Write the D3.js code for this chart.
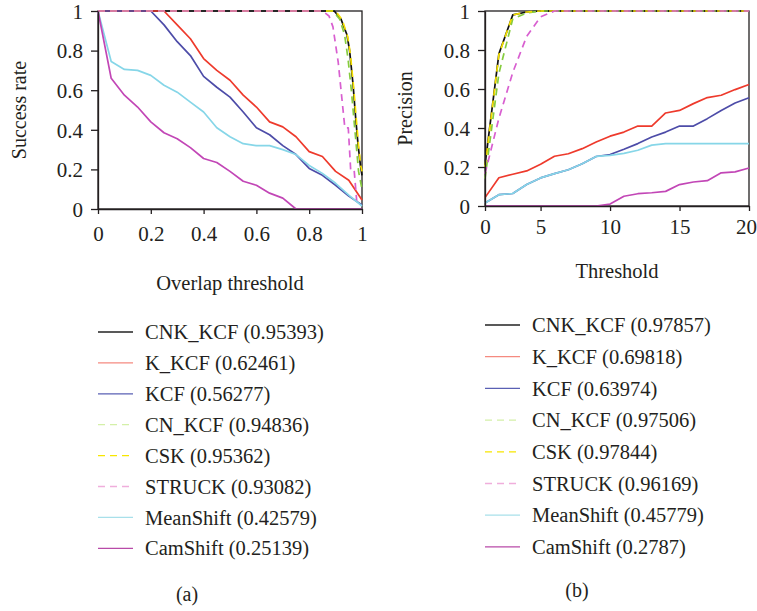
<!DOCTYPE html>
<html>
<head>
<meta charset="utf-8">
<script src="https://cdn.jsdelivr.net/npm/d3@7"></script>
<style>
  body { margin: 0; background: #fff; }
  svg text { font-family: "Liberation Serif", "DejaVu Serif", serif; fill: #231f20; }
  .axis path, .axis line { stroke: #231f20; stroke-width: 1.3; }
  .axis text { font-size: 21px; }
</style>
</head>
<body>
<svg id="chart" width="757" height="611"></svg>
<script>
// ---- data: success plot (a) ----
const overlapT = [0, 0.05, 0.1, 0.15, 0.2, 0.25, 0.3, 0.35, 0.4, 0.45, 0.5,
  0.55, 0.6, 0.65, 0.7, 0.75, 0.8, 0.85, 0.9, 0.95, 1];
const succK_KCF = [1, 1, 1, 1, 1, 1, 0.93, 0.86, 0.76, 0.70, 0.65, 0.575, 0.515, 0.44, 0.415, 0.365, 0.29, 0.265, 0.19, 0.145, 0.045];
const succKCF = [1, 1, 1, 1, 1, 0.93, 0.845, 0.775, 0.67, 0.615, 0.565, 0.49, 0.41, 0.375, 0.32, 0.275, 0.205, 0.17, 0.12, 0.065, 0.02];
const succMeanShift = [1, 0.745, 0.705, 0.70, 0.675, 0.625, 0.59, 0.54, 0.49, 0.41, 0.365, 0.33, 0.32, 0.32, 0.30, 0.275, 0.22, 0.18, 0.13, 0.07, 0.015];
const succCamShift = [1, 0.66, 0.575, 0.515, 0.44, 0.385, 0.355, 0.31, 0.255, 0.235, 0.19, 0.14, 0.12, 0.08, 0.055, 0, 0, 0, 0, 0, 0];
// the steep curves are read as [threshold, rate] points
const succCNK_KCF = [[0, 1], [0.895, 1], [0.92, 0.96], [0.943, 0.88], [0.953, 0.8], [0.966, 0.63], [0.976, 0.46], [0.985, 0.325], [0.994, 0.22], [1, 0.17]];
const succCSK = [[0, 1], [0.9, 1], [0.925, 0.955], [0.946, 0.87], [0.956, 0.78], [0.968, 0.62], [0.978, 0.46], [0.987, 0.32], [0.995, 0.22], [1, 0.19]];
const succCN_KCF = [[0, 1], [0.89, 1], [0.915, 0.96], [0.934, 0.88], [0.947, 0.76], [0.96, 0.595], [0.97, 0.445], [0.979, 0.31], [0.987, 0.19], [1, 0.1]];
const succSTRUCK = [[0, 1], [0.85, 1], [0.875, 0.975], [0.89, 0.92], [0.91, 0.74], [0.935, 0.41], [0.948, 0.41], [0.957, 0.2], [0.97, 0.2], [0.98, 0.04], [1, 0.04]];
const aucA = ["0.95393", "0.62461", "0.56277", "0.94836", "0.95362", "0.93082", "0.42579", "0.25139"];

// ---- data: precision plot (b) ----
const locThr = [1, 2, 3, 4, 5, 6, 7, 8, 9, 10, 11, 12, 13, 14, 15, 16, 17, 18, 19, 20];
const precCNK_KCF = [0.21, 0.78, 0.98, 0.995, 1, 1, 1, 1, 1, 1, 1, 1, 1, 1, 1, 1, 1, 1, 1, 1];
const precK_KCF = [0.043, 0.145, 0.163, 0.18, 0.214, 0.255, 0.268, 0.294, 0.328, 0.358, 0.379, 0.41, 0.41, 0.477, 0.49, 0.525, 0.556, 0.568, 0.597, 0.623];
const precKCF = [0.015, 0.058, 0.064, 0.11, 0.144, 0.166, 0.186, 0.217, 0.254, 0.264, 0.291, 0.32, 0.354, 0.379, 0.41, 0.41, 0.448, 0.49, 0.528, 0.555];
const precCN_KCF = [0.14, 0.68, 0.96, 0.99, 1, 1, 1, 1, 1, 1, 1, 1, 1, 1, 1, 1, 1, 1, 1, 1];
const precCSK = [0.2, 0.775, 0.98, 0.995, 1, 1, 1, 1, 1, 1, 1, 1, 1, 1, 1, 1, 1, 1, 1, 1];
const precSTRUCK = [0.165, 0.45, 0.685, 0.87, 0.97, 1, 1, 1, 1, 1, 1, 1, 1, 1, 1, 1, 1, 1, 1, 1];
const precMeanShift = [0.015, 0.058, 0.064, 0.11, 0.144, 0.166, 0.186, 0.217, 0.254, 0.26, 0.27, 0.286, 0.312, 0.32, 0.32, 0.32, 0.32, 0.32, 0.32, 0.32];
const precCamShift = [0, 0, 0, 0, 0, 0, 0, 0, 0, 0.01, 0.05, 0.063, 0.068, 0.075, 0.11, 0.123, 0.13, 0.17, 0.175, 0.195];
const aucB = ["0.97857", "0.69818", "0.63974", "0.97506", "0.97844", "0.96169", "0.45779", "0.2787"];
const locTicks = [1, 5, 10, 15, 20];
const locTickLabels = ["0", "5", "10", "15", "20"];

const trackers = ["CNK_KCF", "K_KCF", "KCF", "CN_KCF", "CSK", "STRUCK", "MeanShift", "CamShift"];
const rateTicks = [0, 0.2, 0.4, 0.6, 0.8, 1];

const STYLE = {
  CNK_KCF:   { color: "#111111", dash: null },
  K_KCF:     { color: "#ee3a2c", dash: null },
  KCF:       { color: "#4d4ca8", dash: null },
  CN_KCF:    { color: "#86cc3e", dash: "7,5" },
  CSK:       { color: "#f5e000", dash: "7,5" },
  STRUCK:    { color: "#d85fd0", dash: "7,5" },
  MeanShift: { color: "#86d6e8", dash: null },
  CamShift:  { color: "#c246b6", dash: null }
};
const LEGEND_COLOR = {
  CNK_KCF: "#222", K_KCF: "#f58a80", KCF: "#5a60b4", CN_KCF: "#d4f0a8",
  CSK: "#f7e600", STRUCK: "#f0aedc", MeanShift: "#a8e0ea", CamShift: "#b84aa8"
};

const svg = d3.select("#chart");
const fmtRate = d => (d === 0 || d === 1) ? String(d) : d.toFixed(1);

function drawPanel(o) {
  const x = d3.scaleLinear().domain(o.xDomain).range([o.left, o.right]);
  const y = d3.scaleLinear().domain([0, 1]).range([o.bottom, o.top]);
  const g = svg.append("g");

  g.append("rect")
    .attr("x", o.left).attr("y", o.top)
    .attr("width", o.right - o.left).attr("height", o.bottom - o.top)
    .attr("fill", "none").attr("stroke", "#231f20").attr("stroke-width", 1.3);

  const line = d3.line().x(d => x(d[0])).y(d => y(d[1]));
  trackers.forEach(name => {
    g.append("path")
      .datum(o.series[name])
      .attr("d", line)
      .attr("fill", "none")
      .attr("stroke", STYLE[name].color)
      .attr("stroke-width", 1.7)
      .attr("stroke-dasharray", STYLE[name].dash)
      .attr("stroke-linejoin", "round");
  });

  g.append("g").attr("class", "axis")
    .attr("transform", `translate(${o.left},0)`)
    .call(d3.axisLeft(y).tickValues(rateTicks).tickFormat(fmtRate).tickSize(7).tickPadding(8).tickSizeOuter(0))
    .selectAll("text").attr("dy", "0.35em");

  const xa = g.append("g").attr("class", "axis")
    .attr("transform", `translate(0,${o.bottom})`)
    .call(d3.axisBottom(x).tickValues(o.xTicks).tickFormat((d, i) => o.xTickLabels[i]).tickSize(5).tickPadding(o.xPad).tickSizeOuter(0));
  // last label sits against the page edge, nudge it inward a little
  if (o.lastDx) xa.selectAll(".tick:last-of-type text").attr("dx", o.lastDx);

  svg.append("text")
    .attr("transform", `translate(${o.yLabelX},${(o.top + o.bottom) / 2}) rotate(-90)`)
    .attr("text-anchor", "middle").attr("dy", "0.35em")
    .style("font-size", "20px")
    .text(o.yLabel);

  svg.append("text")
    .attr("x", o.xLabelCX).attr("y", o.xLabelY)
    .attr("text-anchor", "middle")
    .style("font-size", "20.5px")
    .text(o.xLabel);

  const leg = svg.append("g");
  trackers.forEach((name, i) => {
    const cy = o.legTop + i * o.legStep;
    leg.append("line")
      .attr("x1", o.legX).attr("x2", o.legX + 35)
      .attr("y1", cy).attr("y2", cy)
      .attr("stroke", LEGEND_COLOR[name])
      .attr("stroke-width", 1.3)
      .attr("stroke-dasharray", STYLE[name].dash ? "7,5" : null);
    leg.append("text")
      .attr("x", o.legX + 47).attr("y", cy)
      .attr("dy", "0.35em")
      .style("font-size", "20.5px")
      .text(`${name} (${o.auc[i]})`);
  });

  svg.append("text")
    .attr("x", o.capX).attr("y", o.capY)
    .attr("text-anchor", "middle").attr("dy", "0.35em")
    .style("font-size", "20px")
    .text(o.caption);
}

const zipA = vals => d3.zip(overlapT, vals);
const zipB = vals => d3.zip(locThr, vals);

drawPanel({
  left: 98, right: 362, top: 11, bottom: 209,
  xDomain: [0, 1], xTicks: rateTicks, xTickLabels: rateTicks.map(fmtRate), xPad: 12,
  series: {
    CNK_KCF: succCNK_KCF, K_KCF: zipA(succK_KCF), KCF: zipA(succKCF),
    CN_KCF: succCN_KCF, CSK: succCSK, STRUCK: succSTRUCK,
    MeanShift: zipA(succMeanShift), CamShift: zipA(succCamShift)
  },
  yLabel: "Success rate", yLabelX: 19,
  xLabel: "Overlap threshold", xLabelCX: 230, xLabelY: 290,
  legX: 98, legTop: 332, legStep: 30.9, auc: aucA,
  caption: "(a)", capX: 187, capY: 594
});

drawPanel({
  left: 485, right: 749, top: 11, bottom: 206,
  xDomain: [1, 20], xTicks: locTicks, xTickLabels: locTickLabels, xPad: 8, lastDx: -3,
  series: {
    CNK_KCF: zipB(precCNK_KCF), K_KCF: zipB(precK_KCF), KCF: zipB(precKCF),
    CN_KCF: zipB(precCN_KCF), CSK: zipB(precCSK), STRUCK: zipB(precSTRUCK),
    MeanShift: zipB(precMeanShift), CamShift: zipB(precCamShift)
  },
  yLabel: "Precision", yLabelX: 405,
  xLabel: "Threshold", xLabelCX: 617, xLabelY: 278,
  legX: 485, legTop: 325, legStep: 31.7, auc: aucB,
  caption: "(b)", capX: 577, capY: 590
});
</script>
</body>
</html>
